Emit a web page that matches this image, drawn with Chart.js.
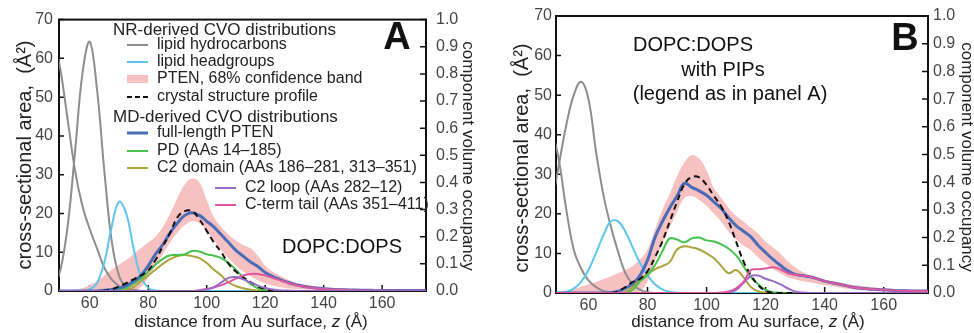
<!DOCTYPE html>
<html>
<head>
<meta charset="utf-8">
<script src="https://cdn.jsdelivr.net/npm/chart.js@4.4.1/dist/chart.umd.min.js"></script>
<style>
  html, body { margin: 0; padding: 0; background: #fff; }
  body { width: 974px; height: 333px; position: relative; overflow: hidden; }
  canvas { position: absolute; top: 0; }
  #chartA { left: 0; }
  #chartB { left: 488px; }
</style>
</head>
<body>
<canvas id="chartA" width="488" height="333"></canvas>
<canvas id="chartB" width="486" height="333"></canvas>
<script>
// distance from Au surface (Å), sampling grid shared by every curve
const zGrid = [47.5, 50, 52.5, 55, 57.5, 60, 62.5, 65, 67.5, 70,
  72.5, 75, 77.5, 80, 82.5, 85, 87.5, 90, 92.5, 95,
  97.5, 100, 102.5, 105, 107.5, 110, 112.5, 115, 117.5, 120,
  122.5, 125, 127.5, 130, 132.5, 135, 137.5, 140, 142.5, 145,
  147.5, 150, 152.5, 155, 157.5, 160, 162.5, 165, 167.5, 170,
  172.5, 175];

const zTicks = [60, 80, 100, 120, 140, 160];
const areaTicks = [0, 10, 20, 30, 40, 50, 60, 70];
const cvoTicks = [0.0, 0.1, 0.2, 0.3, 0.4, 0.5, 0.6, 0.7, 0.8, 0.9, 1.0];

// ---- panel A : DOPC:DOPS ----
const aHydroPeak = [0.5, 5.5, 17, 36, 56, 64.3, 52, 31, 13, 4,
  1, 0.3, 0.05, 0, 0, 0, 0, 0, 0, 0,
  0, 0, 0, 0, 0, 0, 0, 0, 0, 0,
  0, 0, 0, 0, 0, 0, 0, 0, 0, 0,
  0, 0, 0, 0, 0, 0, 0, 0, 0, 0,
  0, 0];
const aHydroEdge = [66, 57, 44, 31, 22, 16, 11, 6, 3, 1.3,
  0.5, 0.15, 0, 0, 0, 0, 0, 0, 0, 0,
  0, 0, 0, 0, 0, 0, 0, 0, 0, 0,
  0, 0, 0, 0, 0, 0, 0, 0, 0, 0,
  0, 0, 0, 0, 0, 0, 0, 0, 0, 0,
  0, 0];
const aHead = [0, 0, 0, 0, 0.05, 0.4, 2.1, 7.4, 16.5, 23,
  20, 11, 3.7, 0.8, 0.1, 0, 0, 0, 0, 0,
  0, 0, 0, 0, 0, 0, 0, 0, 0, 0,
  0, 0, 0, 0, 0, 0, 0, 0, 0, 0,
  0, 0, 0, 0, 0, 0, 0, 0, 0, 0,
  0, 0];
const aBandHi = [0, 0, 0, 0.2, 0.8, 1.5, 2.5, 4, 5.5, 6.8,
  8, 9.5, 11, 12.5, 14, 16.5, 20, 24, 27.5, 29,
  28, 23.5, 19, 16.5, 14.5, 13, 11.8, 11, 9, 6.5,
  5, 4, 3, 2.3, 1.8, 1.5, 1.2, 1, 0.8, 0.7,
  0.6, 0.5, 0.45, 0.4, 0.35, 0.3, 0.3, 0.25, 0.25, 0.2,
  0.2, 0.2];
const aBandLo = [0, 0, 0, 0, 0, 0, 0, 0, 0, 0,
  0, 0, 1, 3.5, 6.5, 9.5, 12.5, 15, 17, 18,
  17.5, 15.5, 13, 10.5, 8.5, 6.5, 5, 3.8, 2.8, 2,
  1.4, 1, 0.7, 0.5, 0.4, 0.3, 0.2, 0.1, 0.05, 0,
  0, 0, 0, 0, 0, 0, 0, 0, 0, 0,
  0, 0];
const aCrystal = [0, 0, 0, 0, 0, 0, 0, 0.1, 0.4, 1.2,
  2, 3, 4, 5.3, 8, 11.5, 15, 19, 20.6, 20.6,
  18.5, 15.5, 12.5, 10, 7, 5, 3.5, 2.3, 1.2, 0.5,
  0.1, 0, 0, 0, 0, 0, 0, 0, 0, 0,
  0, 0, 0, 0, 0, 0, 0, 0, 0, 0,
  0, 0];
const aFull = [0, 0, 0, 0, 0, 0, 0, 0.2, 0.4, 0.8,
  1.4, 2.5, 4, 6.5, 9.5, 12, 15, 17.5, 19.5, 20.2,
  19.5, 18, 16.5, 14.5, 12.5, 10.5, 9, 7.5, 6.3, 4.8,
  3.8, 3, 2.3, 1.7, 1.3, 1, 0.8, 0.6, 0.45, 0.35,
  0.3, 0.25, 0.2, 0.2, 0.15, 0.15, 0.1, 0.1, 0.1, 0.1,
  0.1, 0.1];
const aPD = [0, 0, 0, 0, 0, 0, 0, 0, 0, 0.3,
  0.8, 1.8, 3.2, 5, 6.8, 8.3, 9.2, 9.3, 9.5, 10.3,
  10.2, 9.5, 9.1, 8.5, 7.2, 5.5, 3.5, 1.8, 0.7, 0.2,
  0.05, 0, 0, 0, 0, 0, 0, 0, 0, 0,
  0, 0, 0, 0, 0, 0, 0, 0, 0, 0,
  0, 0];
const aC2 = [0, 0, 0, 0, 0, 0, 0, 0, 0, 0,
  0.4, 1, 2.5, 4, 5.5, 7, 8.2, 9, 9.3, 9,
  8.5, 7.2, 5.5, 4, 2.2, 1.3, 0.7, 0.3, 0.1, 0,
  0, 0, 0, 0, 0, 0, 0, 0, 0, 0,
  0, 0, 0, 0, 0, 0, 0, 0, 0, 0,
  0, 0];
const aLoop = [0, 0, 0, 0, 0, 0, 0, 0, 0, 0,
  0, 0, 0, 0, 0, 0, 0, 0, 0, 0,
  0.1, 0.4, 1, 2.2, 3.4, 3.6, 3, 2.2, 1.4, 0.8,
  0.4, 0.2, 0.1, 0.05, 0, 0, 0, 0, 0, 0,
  0, 0, 0, 0, 0, 0, 0, 0, 0, 0,
  0, 0];
const aTail = [0, 0, 0, 0, 0, 0, 0, 0, 0, 0,
  0, 0, 0, 0, 0, 0, 0, 0, 0, 0,
  0.2, 0.5, 0.9, 1.5, 2.3, 3.2, 4, 4.4, 4.4, 4,
  3.4, 2.8, 2.2, 1.6, 1.2, 0.9, 0.7, 0.5, 0.4, 0.3,
  0.25, 0.2, 0.15, 0.15, 0.1, 0.1, 0.05, 0.05, 0.05, 0.05,
  0.05, 0.05];

// ---- panel B : DOPC:DOPS with PIPs ----
const bHydroPeak = [22, 32.5, 42.5, 50, 53.4, 49, 36, 25, 17, 10.5,
  5, 2.2, 0.8, 0.2, 0, 0, 0, 0, 0, 0,
  0, 0, 0, 0, 0, 0, 0, 0, 0, 0,
  0, 0, 0, 0, 0, 0, 0, 0, 0, 0,
  0, 0, 0, 0, 0, 0, 0, 0, 0, 0,
  0, 0];
const bHydroEdge = [42, 33.5, 21, 11, 6.2, 3.2, 1.5, 0.5, 0.1, 0,
  0, 0, 0, 0, 0, 0, 0, 0, 0, 0,
  0, 0, 0, 0, 0, 0, 0, 0, 0, 0,
  0, 0, 0, 0, 0, 0, 0, 0, 0, 0,
  0, 0, 0, 0, 0, 0, 0, 0, 0, 0,
  0, 0];
const bHead = [0, 0.05, 0.3, 1.1, 2.8, 5.8, 10, 14.5, 18, 18.1,
  15.5, 11.5, 7.5, 4.5, 2.2, 0.9, 0.3, 0.05, 0, 0,
  0, 0, 0, 0, 0, 0, 0, 0, 0, 0,
  0, 0, 0, 0, 0, 0, 0, 0, 0, 0,
  0, 0, 0, 0, 0, 0, 0, 0, 0, 0,
  0, 0];
const bBandHi = [0, 0, 0.4, 1, 1.6, 2.2, 2.8, 3.5, 4.2, 5,
  5.8, 6.8, 8.5, 11, 16, 21, 25, 29.5, 33, 34.8,
  34, 31, 26.5, 24, 21.5, 19.5, 18, 16.5, 15, 13,
  11.5, 10, 8, 6.5, 5.3, 4.5, 3.8, 3.3, 2.9, 2.6,
  2.3, 2, 1.8, 1.6, 1.4, 1.2, 1.1, 1, 0.9, 0.8,
  0.8, 0.7];
const bBandLo = [0, 0, 0, 0, 0, 0, 0, 0, 0, 0,
  0, 0, 0.5, 3, 8, 12.5, 16.5, 20.5, 24, 24.5,
  23.5, 22, 20, 18, 15.5, 13.5, 12, 10.8, 9, 7.5,
  6, 5, 4, 3.5, 3, 2.7, 2.3, 2, 1.7, 1.4,
  1.1, 0.9, 0.7, 0.6, 0.5, 0.4, 0.3, 0.3, 0.2, 0.2,
  0.2, 0.2];
const bCrystal = [0, 0, 0, 0, 0, 0, 0, 0, 0, 0.5,
  1.5, 2.8, 3.6, 5.5, 9, 13, 18, 23, 27.5, 29.3,
  29.2, 27.3, 24.5, 21.8, 18, 13, 8, 4.5, 2, 0.5,
  0.1, 0, 0, 0, 0, 0, 0, 0, 0, 0,
  0, 0, 0, 0, 0, 0, 0, 0, 0, 0,
  0, 0];
const bFull = [0, 0, 0, 0, 0, 0, 0, 0, 0.1, 0.4,
  1.2, 2.4, 4.5, 8.3, 14, 18, 21.5, 24.5, 27.7, 26.7,
  25.8, 24.7, 23, 21.3, 19, 17, 15.6, 14.2, 12, 10.2,
  8.5, 7, 5.6, 4.7, 4.4, 4.1, 3.6, 3, 2.6, 2.2,
  1.8, 1.4, 1.2, 1, 0.9, 0.8, 0.7, 0.6, 0.55, 0.5,
  0.5, 0.5];
const bPD = [0, 0, 0, 0, 0, 0, 0, 0, 0, 0,
  0, 0.8, 3, 4.5, 7, 10.5, 13.8, 13.5, 12.8, 13.8,
  14, 13.3, 13, 12.3, 11.2, 9.5, 6.8, 4, 2.2, 0.8,
  0.2, 0.05, 0, 0, 0, 0, 0, 0, 0, 0,
  0, 0, 0, 0, 0, 0, 0, 0, 0, 0,
  0, 0];
const bC2 = [0, 0, 0, 0, 0, 0, 0, 0, 0, 0,
  0.3, 1.5, 3.5, 4.8, 6, 6.8, 7.8, 11, 11.8, 11.5,
  11, 10, 8.8, 6.8, 5, 5.8, 4, 1.5, 0.4, 0.1,
  0, 0, 0, 0, 0, 0, 0, 0, 0, 0,
  0, 0, 0, 0, 0, 0, 0, 0, 0, 0,
  0, 0];
const bLoop = [0, 0, 0, 0, 0, 0, 0, 0, 0, 0,
  0, 0, 0, 0, 0, 0, 0, 0, 0, 0,
  0, 0, 0, 0, 0.2, 0.8, 2.5, 4.3, 4.4, 3.6,
  3, 2.2, 1.2, 0.4, 0.1, 0, 0, 0, 0, 0,
  0, 0, 0, 0, 0, 0, 0, 0, 0, 0,
  0, 0];
const bTail = [0, 0, 0, 0, 0, 0, 0, 0, 0, 0,
  0, 0, 0, 0, 0, 0, 0, 0, 0, 0,
  0, 0, 0, 0.1, 0.4, 1.2, 2.8, 5.8, 6, 6.2,
  6.5, 6, 5, 4.6, 4.4, 4.1, 3.6, 3, 2.6, 2.2,
  1.8, 1.4, 1.2, 1, 0.9, 0.8, 0.7, 0.6, 0.55, 0.5,
  0.5, 0.5];

const FONT = '"Liberation Sans", Arial, Helvetica, sans-serif';
const col = {
  hydro: '#8d8d8d', head: '#5dc5ee', band: '#f8c1c1', crystal: '#111111',
  full: '#4a6cb8', pd: '#46c24d', c2: '#aaa43f', loop: '#9a6bc6', tail: '#e0559f'
};

function pts(vals) {
  return zGrid.map((x, i) => ({ x: x, y: vals[i] }));
}
function line(label, vals, color, width, extra) {
  return Object.assign({
    label: label, data: pts(vals), borderColor: color, backgroundColor: color,
    borderWidth: width, pointRadius: 0, fill: false, tension: 0.4
  }, extra || {});
}

// frame + inward ticks
const frame = {
  id: 'frame',
  beforeDatasetsDraw(chart) {
    const { ctx, chartArea: a, scales } = chart;
    ctx.save();
    ctx.strokeStyle = '#111';
    ctx.lineWidth = 2;
    ctx.strokeRect(a.left, a.top, a.right - a.left, a.bottom - a.top);
    ctx.lineWidth = 1.5;
    ctx.beginPath();
    scales.x.ticks.forEach(t => {
      const px = scales.x.getPixelForValue(t.value);
      ctx.moveTo(px, a.bottom); ctx.lineTo(px, a.bottom - 6);
    });
    scales.y.ticks.forEach(t => {
      const py = scales.y.getPixelForValue(t.value);
      ctx.moveTo(a.left, py); ctx.lineTo(a.left + 5, py);
    });
    scales.y2.ticks.forEach(t => {
      const py = scales.y2.getPixelForValue(t.value);
      ctx.moveTo(a.right, py); ctx.lineTo(a.right - 6, py);
    });
    ctx.stroke();
    ctx.restore();
  }
};

function rotText(ctx, txt, x, y, ang, font) {
  ctx.save();
  ctx.translate(x, y);
  ctx.rotate(ang);
  ctx.font = font;
  ctx.textAlign = 'center';
  ctx.textBaseline = 'middle';
  ctx.fillText(txt, 0, 0);
  ctx.restore();
}

function xTitle(ctx, cx, cy) {
  const f = '17px ' + FONT, fi = 'italic 17px ' + FONT;
  const p1 = 'distance from Au surface, ', p2 = 'z', p3 = ' (Å)';
  ctx.save();
  ctx.textBaseline = 'middle';
  ctx.textAlign = 'left';
  ctx.font = f; const w1 = ctx.measureText(p1).width, w3 = ctx.measureText(p3).width;
  ctx.font = fi; const w2 = ctx.measureText(p2).width;
  let x = cx - (w1 + w2 + w3) / 2;
  ctx.font = f; ctx.fillText(p1, x, cy); x += w1;
  ctx.font = fi; ctx.fillText(p2, x, cy); x += w2;
  ctx.font = f; ctx.fillText(p3, x, cy);
  ctx.restore();
}

function texts(p) {
  return {
    id: 'texts',
    afterDraw(chart) {
      const ctx = chart.ctx;
      ctx.save();
      ctx.fillStyle = '#222';
      rotText(ctx, 'cross-sectional area,  (Å²)', p.lt[0], p.lt[1], -Math.PI / 2, '20px ' + FONT);
      rotText(ctx, 'component volume occupancy', p.rt[0], p.rt[1], Math.PI / 2, '17px ' + FONT);
      xTitle(ctx, p.xt[0], p.xt[1]);
      ctx.font = 'bold 38px ' + FONT;
      ctx.fillStyle = '#111';
      ctx.textAlign = 'center';
      ctx.textBaseline = 'middle';
      ctx.fillText(p.letter, p.letterPos[0], p.letterPos[1]);
      ctx.font = '20px ' + FONT;
      p.notes.forEach(n => ctx.fillText(n[0], n[1], n[2]));
      ctx.restore();
      if (p.legend) drawLegend(ctx);
    }
  };
}

function drawLegend(ctx) {
  const x0 = 127, x1 = 148, tx = 157;
  const rows = [
    { head: 'NR-derived CVO distributions', y: 30 },
    { text: 'lipid hydrocarbons', y: 45, color: col.hydro, w: 2 },
    { text: 'lipid headgroups', y: 62, color: col.head, w: 2 },
    { text: 'PTEN, 68% confidence band', y: 79, band: true },
    { text: 'crystal structure profile', y: 97, color: col.crystal, w: 2, dash: [5, 3] },
    { head: 'MD-derived CVO distributions', y: 117 },
    { text: 'full-length PTEN', y: 133, color: col.full, w: 3 },
    { text: 'PD (AAs 14–185)', y: 151, color: col.pd, w: 2 },
    { text: 'C2 domain (AAs 186–281, 313–351)', y: 168, color: col.c2, w: 2 },
    { text: 'C2 loop (AAs 282–12)', y: 188, color: col.loop, w: 2, shift: 88 },
    { text: 'C-term tail (AAs 351–411)', y: 205, color: col.tail, w: 2, shift: 88 }
  ];
  ctx.save();
  ctx.textBaseline = 'middle';
  ctx.textAlign = 'left';
  rows.forEach(r => {
    if (r.head) {
      ctx.fillStyle = '#222';
      ctx.font = '17px ' + FONT;
      ctx.fillText(r.head, 113, r.y);
      return;
    }
    const s = r.shift || 0;
    if (r.band) {
      ctx.fillStyle = col.band;
      ctx.fillRect(x0 + s, r.y - 4, x1 - x0, 8);
    } else {
      ctx.strokeStyle = r.color;
      ctx.lineWidth = r.w;
      ctx.setLineDash(r.dash || []);
      ctx.beginPath();
      ctx.moveTo(x0 + s, r.y); ctx.lineTo(x1 + s, r.y);
      ctx.stroke();
      ctx.setLineDash([]);
    }
    ctx.fillStyle = '#222';
    ctx.font = '16px ' + FONT;
    ctx.fillText(r.text, tx + s, r.y);
  });
  ctx.restore();
}

function panel(id, p) {
  const tickFont = { family: FONT, size: 16 };
  const datasets = [
    line('C-term tail', p.d.tail, col.tail, 2),
    line('C2 loop', p.d.loop, col.loop, 2),
    line('crystal structure profile', p.d.crystal, col.crystal, 2, { borderDash: [6, 4] }),
    line('full-length PTEN', p.d.full, col.full, 3),
    line('PD', p.d.pd, col.pd, 2),
    line('C2 domain', p.d.c2, col.c2, 2),
    line('lipid headgroups', p.d.head, col.head, 2),
    line('lipid hydrocarbons', p.d.hydroEdge, col.hydro, 2),
    line('lipid hydrocarbons', p.d.hydroPeak, col.hydro, 2),
    line('PTEN band upper', p.d.bandHi, col.band, 0, { fill: '+1', backgroundColor: col.band }),
    line('PTEN band lower', p.d.bandLo, col.band, 0)
  ];
  if (p.tailUnder) { const t = datasets[0]; datasets[0] = datasets[1]; datasets[1] = t; }
  return new Chart(document.getElementById(id), {
    type: 'line',
    data: { datasets: datasets },
    options: {
      responsive: false,
      animation: false,
      devicePixelRatio: 1,
      layout: { padding: { top: 16, left: 0, right: 0, bottom: 0 } },
      plugins: { legend: { display: false }, tooltip: { enabled: false } },
      scales: {
        x: {
          type: 'linear', min: p.xMin, max: 175,
          grid: { display: false, drawTicks: false }, border: { display: false },
          ticks: { font: tickFont, color: '#444', padding: 3, maxRotation: 0 },
          afterBuildTicks: s => { s.ticks = zTicks.map(v => ({ value: v })); },
          afterFit: s => { s.height = p.bottomH; }
        },
        y: {
          position: 'left', min: 0, max: 70,
          grid: { display: false, drawTicks: false }, border: { display: false },
          ticks: { font: tickFont, color: '#444', padding: p.leftPad },
          afterBuildTicks: s => { s.ticks = areaTicks.map(v => ({ value: v })); },
          afterFit: s => { s.width = p.leftW; }
        },
        y2: {
          position: 'right', min: 0, max: 1,
          grid: { display: false, drawTicks: false }, border: { display: false },
          ticks: { font: tickFont, color: '#444', padding: p.rightPad, callback: v => v.toFixed(1) },
          afterBuildTicks: s => { s.ticks = cvoTicks.map(v => ({ value: v })); },
          afterFit: s => { s.width = p.rightW; }
        }
      }
    },
    plugins: [frame, texts(p)]
  });
}

panel('chartA', {
  xMin: 49.5, leftW: 59, rightW: 62, bottomH: 42, leftPad: 6, rightPad: 10,
  d: { hydroPeak: aHydroPeak, hydroEdge: aHydroEdge, head: aHead, bandHi: aBandHi, bandLo: aBandLo,
       crystal: aCrystal, full: aFull, pd: aPD, c2: aC2, loop: aLoop, tail: aTail },
  tailUnder: true,
  lt: [25, 155], rt: [468, 156], xt: [251, 322],
  letter: 'A', letterPos: [397, 39],
  notes: [['DOPC:DOPS', 342, 247]],
  legend: true
});

panel('chartB', {
  xMin: 49, leftW: 68, rightW: 46, bottomH: 40, leftPad: 4, rightPad: 5,
  d: { hydroPeak: bHydroPeak, hydroEdge: bHydroEdge, head: bHead, bandHi: bBandHi, bandLo: bBandLo,
       crystal: bCrystal, full: bFull, pd: bPD, c2: bC2, loop: bLoop, tail: bTail },
  tailUnder: false,
  lt: [34, 158], rt: [479, 157], xt: [260, 322],
  letter: 'B', letterPos: [417, 40],
  notes: [['DOPC:DOPS', 205, 45], ['with PIPs', 235, 70], ['(legend as in panel A)', 242, 94]],
  legend: false
});
</script>
</body>
</html>
